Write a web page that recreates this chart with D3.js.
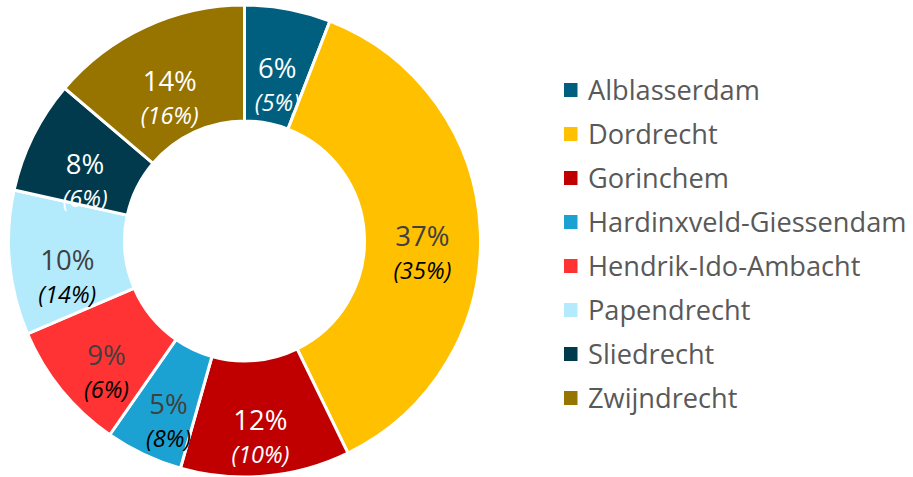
<!DOCTYPE html>
<html>
<head>
<meta charset="utf-8">
<script src="https://cdn.jsdelivr.net/npm/d3@7"></script>
<style>
  html, body { margin: 0; padding: 0; background: #fff; }
  svg { display: block; font-family: "Open Sans", sans-serif; }
</style>
</head>
<body>
<svg id="chart" width="913" height="477"></svg>
<script>
// Share per municipality (%), with the comparison share shown in brackets
const municipalities = ["Alblasserdam", "Dordrecht", "Gorinchem", "Hardinxveld-Giessendam",
                        "Hendrik-Ido-Ambacht", "Papendrecht", "Sliedrecht", "Zwijndrecht"];
const shares = [5.9, 36.9, 11.6, 5.3, 8.9, 9.9, 7.75, 13.8];
const compareShares = [5, 35, 10, 8, 6, 14, 6, 16];
const sliceColors = ["#005F7F", "#FFC000", "#C00000", "#1CA2D2", "#FF3333", "#B3EBFC", "#003A4C", "#977300"];
// Label ink per slice: light text on dark slices, dark text on light ones
const mainInk = ["#FFFFFF", "#404040", "#FFFFFF", "#404040", "#404040", "#404040", "#FFFFFF", "#FFFFFF"];
const subInk  = ["#FFFFFF", "#000000", "#FFFFFF", "#000000", "#000000", "#000000", "#FFFFFF", "#FFFFFF"];

const svg = d3.select("#chart");
const cx = 244.5, cy = 241, outerR = 236, innerR = 120;

const data = municipalities.map((name, i) => ({
  name, value: shares[i], compare: compareShares[i], i
}));

const pie = d3.pie().value(d => d.value).sort(null);
const arc = d3.arc().innerRadius(innerR).outerRadius(outerR);
const labelArc = d3.arc().innerRadius(innerR).outerRadius(outerR);

const g = svg.append("g").attr("transform", `translate(${cx},${cy})`);
const arcs = pie(data);

g.selectAll("path.slice")
  .data(arcs)
  .join("path")
  .attr("class", "slice")
  .attr("d", arc)
  .attr("fill", d => sliceColors[d.data.i])
  .attr("stroke", "#fff")
  .attr("stroke-width", 3)
  .attr("stroke-linejoin", "miter");

const labels = g.selectAll("g.label")
  .data(arcs)
  .join("g")
  .attr("class", "label")
  .attr("transform", d => {
    const [x, y] = labelArc.centroid(d);
    return `translate(${x},${y})`;
  });

labels.append("text")
  .attr("text-anchor", "middle")
  .attr("y", 12)
  .attr("font-size", 27.5)
  .attr("fill", d => mainInk[d.data.i])
  .text(d => Math.round(d.data.value) + "%");

labels.append("text")
  .attr("text-anchor", "middle")
  .attr("y", 45)
  .attr("font-size", 23.5)
  .attr("font-style", "italic")
  .attr("fill", d => subInk[d.data.i])
  .text(d => "(" + d.data.compare + "%)");

// Legend
const legendY = d3.scalePoint().domain(municipalities).range([90, 398]);
const legend = svg.append("g")
  .selectAll("g")
  .data(data)
  .join("g")
  .attr("transform", d => `translate(564,${legendY(d.name)})`);

legend.append("rect")
  .attr("x", 0).attr("y", -7)
  .attr("width", 13.5).attr("height", 14)
  .attr("fill", d => sliceColors[d.i]);

legend.append("text")
  .attr("x", 24)
  .attr("y", 9.5)
  .attr("font-size", 27.2)
  .attr("fill", "#595959")
  .text(d => d.name);
</script>
</body>
</html>
